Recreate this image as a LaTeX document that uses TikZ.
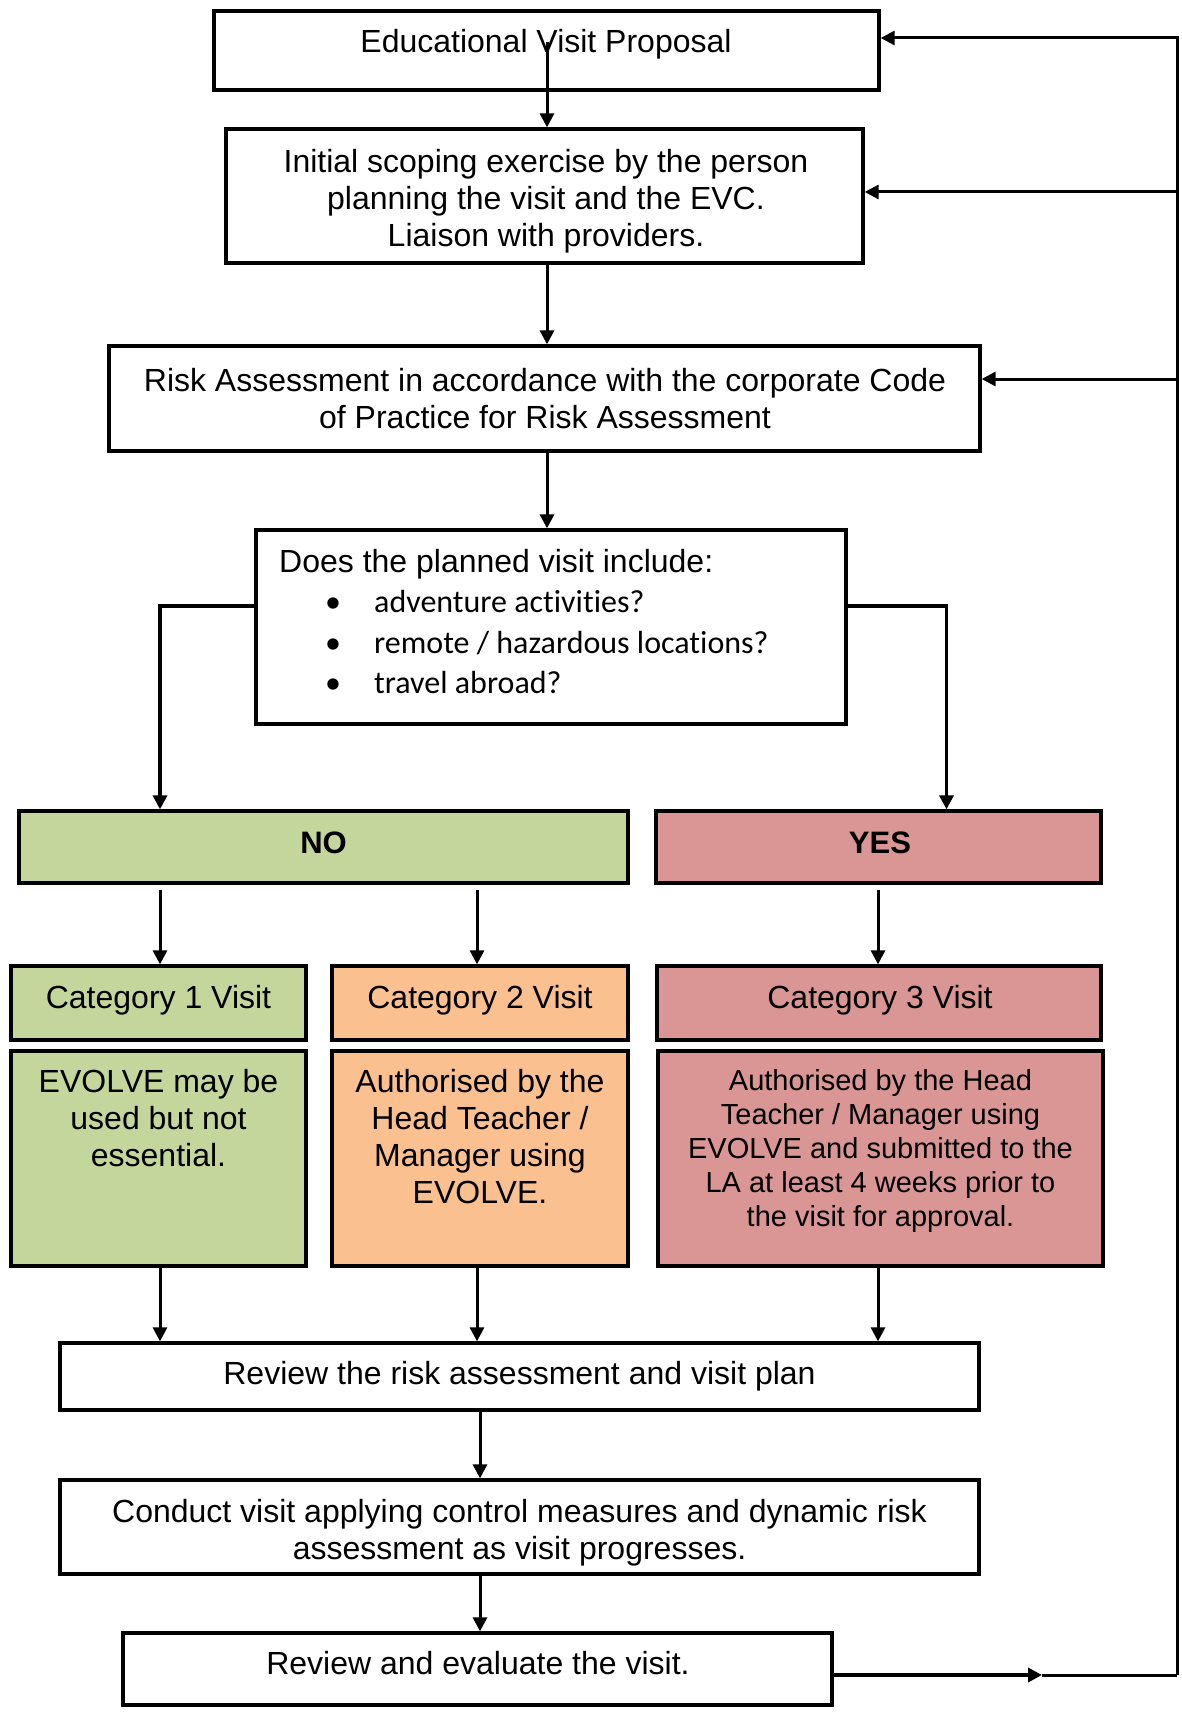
\documentclass[tikz,border=0pt]{standalone}
\usepackage{fontspec}
\setmainfont{Liberation Sans}
\newfontfamily\carlito[Ligatures=NoCommon]{Carlito}
\usetikzlibrary{arrows.meta}
\definecolor{cgreen}{RGB}{196,214,155}
\definecolor{corange}{RGB}{250,192,144}
\definecolor{cred}{RGB}{217,150,148}
\newcommand\myfs[2]{\fontsize{#1}{#2}\selectfont}
\begin{document}
\begin{tikzpicture}[x=1pt,y=-1pt,
  box/.style={draw, line width=3.3pt, inner sep=0pt},
  txt/.style={inner sep=0pt, align=center, font=\myfs{32}{37}},
  btxt/.style={inner sep=0pt, font=\carlito\myfs{32}{40}},
  conn/.style={line width=3pt, -{Triangle[length=14pt,width=14pt]}},
  plainln/.style={line width=3pt}]
\useasboundingbox (0,0) rectangle (1181,1712);

% boxes
\node[box, minimum width=665, minimum height=79] (b1) at (546.5,50.5) {};
\node[box, minimum width=637, minimum height=134] (b2) at (544.5,196) {};
\node[box, minimum width=871, minimum height=105] (b3) at (544.5,398.5) {};
\node[box, minimum width=590, minimum height=194] (b4) at (551,627) {};
\node[box, fill=cgreen, minimum width=609, minimum height=72] (no) at (323.5,847) {};
\node[box, fill=cred, minimum width=445, minimum height=72] (yes) at (878.5,847) {};
\node[box, fill=cgreen, minimum width=295, minimum height=74] (c1) at (158.5,1003) {};
\node[box, fill=corange, minimum width=296, minimum height=74] (c2) at (480,1003) {};
\node[box, fill=cred, minimum width=444, minimum height=74] (c3) at (879,1003) {};
\node[box, fill=cgreen, minimum width=295, minimum height=215] (d1) at (158.5,1158.5) {};
\node[box, fill=corange, minimum width=296, minimum height=215] (d2) at (480,1158.5) {};
\node[box, fill=cred, minimum width=445, minimum height=215] (d3) at (880.5,1158.5) {};
\node[box, minimum width=919, minimum height=67] (rv) at (519.5,1376.5) {};
\node[box, minimum width=919, minimum height=94] (cv) at (519.5,1527) {};
\node[box, minimum width=709, minimum height=72] (ev) at (477.5,1669) {};

% texts
\node[txt] (t1) at (546,44) {Educational Visit Proposal};
\node[txt] (t2) at (546,201) {Initial scoping exercise by the person\\planning the visit and the EVC.\\Liaison with providers.};
\node[txt] (t3) at (545,398.5) {Risk Assessment in accordance with the corporate Code\\of Practice for Risk Assessment};
\node[txt, anchor=west] (t4) at (279,564) {Does the planned visit include:};
\node[btxt, anchor=base] (bu1) at (333,612) {\textbullet};
\node[btxt, anchor=base] (bu2) at (333,653) {\textbullet};
\node[btxt, anchor=base] (bu3) at (333,693) {\textbullet};
\node[btxt, anchor=base west] (i1) at (374,612) {adventure activities?};
\node[btxt, anchor=base west] (i2) at (374,653) {remote / hazardous locations?};
\node[btxt, anchor=base west] (i3) at (374,693) {travel abroad?};
\node[inner sep=0pt, font=\bfseries\myfs{31}{36}] (tno) at (323.5,843) {NO};
\node[inner sep=0pt, font=\bfseries\myfs{31}{36}] (tyes) at (880,843) {YES};
\node[txt] (tc1) at (158.5,1000) {Category 1 Visit};
\node[txt] (tc2) at (480,1000) {Category 2 Visit};
\node[txt] (tc3) at (880,1000) {Category 3 Visit};
\node[txt] (td1) at (158.5,1118) {EVOLVE may be\\used but not\\essential.};
\node[txt] (td2) at (480,1137) {Authorised by the\\Head Teacher /\\Manager using\\EVOLVE.};
\node[txt, font=\myfs{29}{34}] (td3) at (880.5,1151) {Authorised by the Head\\Teacher / Manager using\\EVOLVE and submitted to the\\LA at least 4 weeks prior to\\the visit for approval.};
\node[txt] (trv) at (519.5,1376.5) {Review the risk assessment and visit plan};
\node[txt] (tcv) at (519.5,1533) {Conduct visit applying control measures and dynamic risk\\assessment as visit progresses.};
\node[txt] (tev) at (478,1663) {Review and evaluate the visit.};

% helper coordinates
\coordinate (s1) at (547,42);
\coordinate (bl) at (160,606);
\coordinate (br) at (946.5,606);
\coordinate (x2) at (477,0);
\coordinate (x3) at (878,0);
\coordinate (x4) at (480,0);
\coordinate (fr) at (1177,1675);
\coordinate (ft) at (1177,38);
\coordinate (f2) at (1177,192);
\coordinate (f3) at (1177,379);
\coordinate (mid) at (1042,1675);

% main flow
\draw[conn] (s1) -- (s1 |- b2.north);
\draw[conn] (b2.south -| s1) -- (b3.north -| s1);
\draw[conn] (b3.south -| s1) -- (b4.north -| s1);
\draw[conn, line width=3.3pt] (bl -| b4.west) -- (bl) -- (bl |- no.north);
\draw[conn, line width=3.3pt] (br -| b4.east) -- (br) -- (br |- yes.north);
\draw[conn, shorten <=5pt] (bl |- no.south) -- (bl |- c1.north);
\draw[conn, shorten <=5pt] (x2 |- no.south) -- (x2 |- c2.north);
\draw[conn, shorten <=5pt] (x3 |- yes.south) -- (x3 |- c3.north);
\draw[conn] (bl |- d1.south) -- (bl |- rv.north);
\draw[conn] (x2 |- d2.south) -- (x2 |- rv.north);
\draw[conn] (x3 |- d3.south) -- (x3 |- rv.north);
\draw[conn] (x4 |- rv.south) -- (x4 |- cv.north);
\draw[conn] (x4 |- cv.south) -- (x4 |- ev.north);

% feedback loop
\draw[conn, line width=3.6pt] (ev.east |- mid) -- (mid);
\draw[plainln] (mid) -- (fr);
\draw[conn] (fr) -- (ft) -- (ft -| b1.east);
\draw[conn] (f2) -- (f2 -| b2.east);
\draw[conn] (f3) -- (f3 -| b3.east);
\end{tikzpicture}
\end{document}
